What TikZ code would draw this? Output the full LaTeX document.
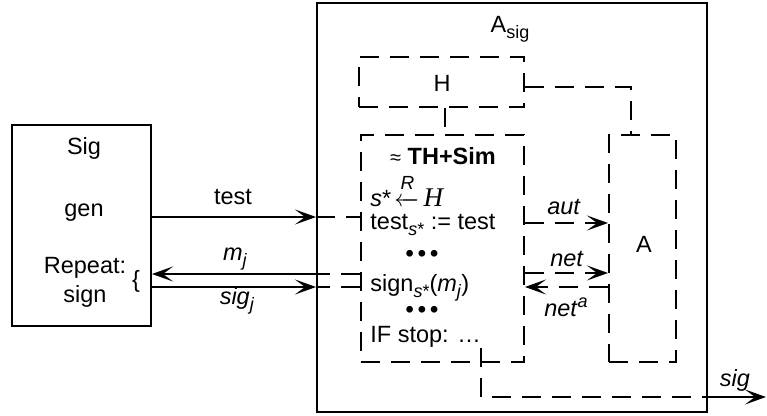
\documentclass[tikz,border=0pt]{standalone}
\usepackage{amsmath}
\usepackage{fontspec}
\setmainfont{Liberation Sans}
\newfontfamily\timesfont{Liberation Serif}
\usetikzlibrary{arrows.meta,fit}

% lowered and raised indices set in a slightly smaller size
\newcommand\lowidx[1]{\raisebox{-0.45ex}{\fontsize{9}{10}\selectfont #1}}
\newcommand\highidx[1]{\raisebox{0.75ex}{\fontsize{9}{10}\selectfont #1}}
% left arrow with an R placed above it
\newcommand\randarrow{\rlap{\raisebox{8.5pt}{\kern3.2pt\fontsize{9.5}{10}\selectfont\textit{R}}}$\xleftarrow{\hspace{6pt}}$}

\begin{document}
\begin{tikzpicture}[
  x=0.5pt, y=-0.5pt,
  font=\fontsize{11.75}{14}\selectfont,
  >={Stealth[length=10.5pt,width=7.5pt,inset=5pt]},
  sline/.style={line width=1pt},
  dline/.style={line width=1pt, dash pattern=on 9.5pt off 5.5pt},
  sbox/.style={draw, sline, inner sep=0pt},
  dbox/.style={draw, dline, inner sep=0pt},
  lab/.style={inner sep=0pt, anchor=base},
  llab/.style={inner sep=0pt, anchor=base west},
]
\useasboundingbox (0,0) rectangle (767,416);

% boxes
\node[sbox, fit={(12,125) (151,326)}] (sig) {};
\node[sbox, fit={(317,3) (707,412)}] (Asig) {};
\node[dbox, fit={(359,57) (524,107)}] (H) {};
\node[dbox, fit={(361,135) (524,362)}] (TH) {};
\node[dbox, fit={(609,135) (676,362)}] (A) {};

% signer box texts
\node[lab] (tSig) at (84,155) {Sig};
\node[lab] (tgen) at (84,217) {gen};
\node[lab] (trep) at (85,274) {Repeat:};
\node[lab] (tsign) at (85,303) {sign};
\node[inner sep=0pt] (brace) at (136,281) {\{};

% adversary texts
\node[lab] (tAsig) at (510,33) {A\lowidx{sig}};
\node[lab] (tH) at (442,92) {H};
\node[lab] (tA) at (644,253) {A};

% simulator texts
\node[lab] (tTH) at (443,165) {{\fontsize{10}{12}\selectfont≈} \textbf{TH+Sim}};
\node[llab] (tsamp) at (370,207) {\textit{s}*\kern1.5pt\randarrow\kern2pt{\timesfont\itshape\fontsize{13.5}{14}\selectfont H}};
\node[llab] (ttest) at (370,230) {test\lowidx{\textit{s}*} := test};
\node[inner sep=0pt] (dots1) at (422,256) {\textbf{•\,•\,•}};
\node[llab] (tsgn) at (370,292) {sign\lowidx{\textit{s}*}(\textit{m}\lowidx{\textit{j}})};
\node[inner sep=0pt] (dots2) at (422,312) {\textbf{•\,•\,•}};
\node[llab] (tstop) at (370,343) {IF stop: …};

% channel levels
\coordinate (ytest) at (0,217);
\coordinate (ym) at (0,274);
\coordinate (ysg) at (0,287);
\coordinate (yaut) at (0,223);
\coordinate (ynet) at (0,273);
\coordinate (ynta) at (0,287);
\coordinate (ysig) at (0,397);

% test
\draw[sline,->] (sig.east |- ytest) -- (Asig.west |- ytest);
\draw[dline] (Asig.west |- ytest) -- (TH.west |- ytest);
\node[lab] (ltest) at (233,205) {test};

% m_j
\draw[sline,->] (Asig.west |- ym) -- (sig.east |- ym);
\draw[dline] (TH.west |- ym) -- (Asig.west |- ym);
\node[lab] (lm) at (235,261) {\textit{m}\lowidx{\textit{j}}};

% sig_j
\draw[sline,->] (sig.east |- ysg) -- (Asig.west |- ysg);
\draw[dline] (TH.west |- ysg) -- (Asig.west |- ysg);
\node[lab] (lsg) at (237,305) {\textit{sig}\lowidx{\textit{j}}};

% H links
\draw[dline] ([xshift=1.5pt]H.south) -- ([xshift=1.5pt]H.south |- TH.north);
\draw[dline] ([yshift=-2.5pt]H.east) -| ([xshift=-5.75pt]A.north);

% simulator <-> adversary
\draw[dline,->] (TH.east |- yaut) -- (A.west |- yaut);
\node[lab] (laut) at (564,215) {\textit{aut}};
\draw[dline,->] (TH.east |- ynet) -- (A.west |- ynet);
\node[lab] (lnet) at (567,267) {\textit{net}};
\draw[dline,->] (A.west |- ynta) -- (TH.east |- ynta);
\node[lab] (lnta) at (566,317) {\textit{net}\highidx{\textit{a}}};

% output signature
\coordinate (sigstart) at (481,348);
\coordinate (sigend) at (766,397);
\draw[dline] (sigstart) |- (Asig.east |- ysig);
\draw[sline,->] (Asig.east |- ysig) -- (sigend);
\node[lab] (lsig) at (735,387) {\textit{sig}};
\end{tikzpicture}
\end{document}
